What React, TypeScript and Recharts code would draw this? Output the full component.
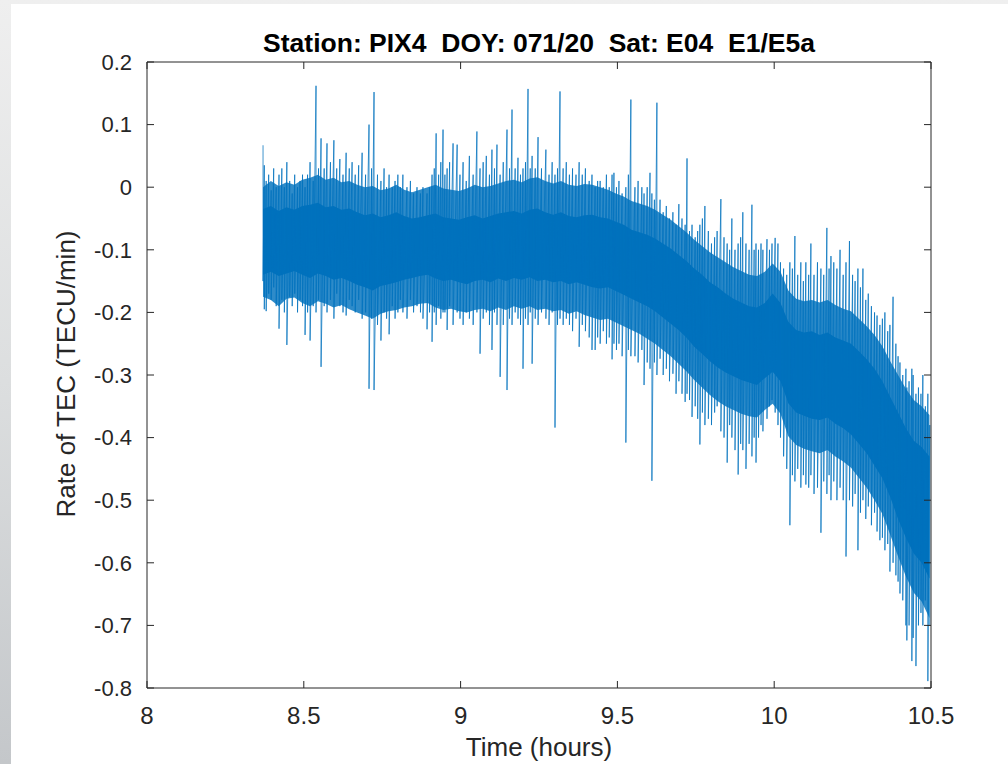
import React from "react";
import { ComposedChart, Line, Area, XAxis, YAxis } from "recharts";

// spike extremes of the rate-of-TEC trace (hours, TECU/min)
const spikeHours = [
  8.370, 8.374, 8.380, 8.388, 8.396, 8.404, 8.412, 8.421, 8.430, 8.438,
  8.446, 8.455, 8.463, 8.471, 8.480, 8.488, 8.496, 8.504, 8.512, 8.520,
  8.530, 8.539, 8.547, 8.555, 8.565, 8.574, 8.585, 8.596, 8.605, 8.615,
  8.625, 8.635, 8.645, 8.654, 8.664, 8.675, 8.686, 8.697, 8.708, 8.716,
  8.724, 8.735, 8.746, 8.756, 8.764, 8.772, 8.782, 8.791, 8.800, 8.808,
  8.816, 8.829, 8.840, 8.850, 8.861, 8.872, 8.880, 8.893, 8.901, 8.909,
  8.916, 8.922, 8.930, 8.937, 8.944, 8.950, 8.957, 8.965, 8.976, 8.989,
  8.998, 9.008, 9.018, 9.028, 9.040, 9.052, 9.062, 9.072, 9.082, 9.092,
  9.100, 9.108, 9.116, 9.126, 9.136, 9.148, 9.156, 9.164, 9.174, 9.183,
  9.191, 9.199, 9.207, 9.215, 9.222, 9.228, 9.238, 9.247, 9.258, 9.272,
  9.282, 9.292, 9.301, 9.309, 9.317, 9.327, 9.337, 9.347, 9.357, 9.368,
  9.378, 9.388, 9.398, 9.410, 9.419, 9.429, 9.437, 9.445, 9.455, 9.465,
  9.474, 9.483, 9.489, 9.497, 9.505, 9.515, 9.527, 9.535, 9.543, 9.556,
  9.566, 9.578, 9.585, 9.595, 9.604, 9.610, 9.618, 9.626, 9.636, 9.646,
  9.656, 9.666, 9.677, 9.687, 9.696, 9.706, 9.716, 9.722, 9.730, 9.738,
  9.748, 9.756, 9.763, 9.771, 9.779, 9.790, 9.800, 9.810, 9.818, 9.830,
  9.840, 9.850, 9.858, 9.865, 9.875, 9.885, 9.893, 9.900, 9.910, 9.920,
  9.929, 9.936, 9.942, 9.950, 9.958, 9.964, 9.977, 9.985, 9.993, 10.003,
  10.012, 10.020, 10.030, 10.040, 10.050, 10.058, 10.066, 10.075, 10.085, 10.093,
  10.101, 10.110, 10.117, 10.127, 10.138, 10.149, 10.158, 10.168, 10.175, 10.181,
  10.190, 10.200, 10.210, 10.220, 10.229, 10.240, 10.250, 10.258, 10.267, 10.275,
  10.283, 10.292, 10.300, 10.310, 10.320, 10.328, 10.337, 10.345, 10.353, 10.362,
  10.369, 10.379, 10.388, 10.395, 10.401, 10.410, 10.420, 10.423, 10.430, 10.439,
  10.443, 10.452, 10.460, 10.468, 10.474, 10.482, 10.490, 10.496,
];

const spikeLow = [
  -0.150, -0.195, -0.198, -0.170, -0.180, -0.160, -0.190, -0.226, -0.180, -0.200,
  -0.252, -0.175, -0.190, -0.170, -0.200, -0.180, -0.190, -0.236, -0.200, -0.245,
  -0.190, -0.200, -0.180, -0.287, -0.190, -0.200, -0.180, -0.210, -0.170, -0.190,
  -0.200, -0.205, -0.180, -0.190, -0.200, -0.180, -0.210, -0.200, -0.322, -0.210,
  -0.324, -0.220, -0.245, -0.200, -0.210, -0.235, -0.190, -0.210, -0.200, -0.180,
  -0.200, -0.210, -0.180, -0.200, -0.190, -0.200, -0.210, -0.227, -0.200, -0.247,
  -0.200, -0.220, -0.190, -0.210, -0.200, -0.200, -0.228, -0.190, -0.220, -0.200,
  -0.210, -0.220, -0.200, -0.210, -0.220, -0.200, -0.266, -0.210, -0.200, -0.220,
  -0.260, -0.200, -0.220, -0.303, -0.220, -0.324, -0.210, -0.220, -0.200, -0.210,
  -0.220, -0.290, -0.210, -0.220, -0.200, -0.282, -0.210, -0.220, -0.200, -0.210,
  -0.220, -0.200, -0.384, -0.220, -0.210, -0.220, -0.210, -0.220, -0.230, -0.210,
  -0.255, -0.220, -0.230, -0.240, -0.260, -0.260, -0.240, -0.250, -0.230, -0.250,
  -0.240, -0.275, -0.250, -0.260, -0.250, -0.270, -0.408, -0.260, -0.270, -0.270,
  -0.280, -0.260, -0.316, -0.280, -0.290, -0.469, -0.280, -0.300, -0.274, -0.300,
  -0.290, -0.310, -0.298, -0.330, -0.310, -0.330, -0.343, -0.330, -0.340, -0.367,
  -0.350, -0.370, -0.411, -0.360, -0.380, -0.370, -0.380, -0.360, -0.350, -0.390,
  -0.400, -0.440, -0.380, -0.400, -0.420, -0.459, -0.410, -0.420, -0.450, -0.410,
  -0.430, -0.400, -0.440, -0.400, -0.380, -0.390, -0.370, -0.350, -0.340, -0.360,
  -0.380, -0.400, -0.430, -0.450, -0.540, -0.460, -0.470, -0.450, -0.480, -0.460,
  -0.475, -0.480, -0.460, -0.490, -0.480, -0.552, -0.470, -0.490, -0.460, -0.500,
  -0.470, -0.500, -0.480, -0.500, -0.590, -0.500, -0.510, -0.490, -0.580, -0.520,
  -0.500, -0.530, -0.510, -0.540, -0.520, -0.550, -0.564, -0.560, -0.580, -0.570,
  -0.614, -0.600, -0.620, -0.630, -0.649, -0.660, -0.700, -0.724, -0.700, -0.757,
  -0.720, -0.765, -0.700, -0.680, -0.700, -0.660, -0.789, -0.700,
];

const spikeHigh = [
  0.067, 0.035, 0.010, 0.020, -0.005, 0.030, 0.000, 0.020, 0.030, 0.000,
  0.040, 0.010, -0.010, 0.020, 0.000, 0.010, 0.020, 0.000, 0.020, 0.040,
  0.010, 0.162, 0.030, 0.078, 0.030, 0.070, 0.040, 0.075, 0.030, 0.045,
  0.020, 0.055, 0.030, 0.040, 0.020, 0.035, 0.055, 0.020, 0.100, 0.030,
  0.152, 0.020, 0.010, 0.030, 0.000, 0.020, 0.000, 0.010, 0.020, 0.000,
  0.020, 0.000, 0.010, -0.010, 0.000, -0.010, 0.000, -0.010, 0.000, 0.020,
  0.030, 0.086, 0.020, 0.040, 0.092, 0.020, 0.030, 0.040, 0.070, 0.068,
  0.020, 0.040, 0.010, 0.050, 0.020, 0.089, 0.030, 0.040, 0.050, 0.020,
  0.060, 0.030, 0.068, 0.020, 0.040, 0.092, 0.030, 0.124, 0.030, 0.047,
  0.020, 0.030, 0.040, 0.157, 0.030, 0.050, 0.030, 0.080, 0.030, 0.060,
  0.020, 0.040, 0.020, 0.030, 0.153, 0.030, 0.040, 0.020, 0.030, 0.020,
  0.040, 0.020, 0.030, 0.010, 0.020, 0.000, 0.010, 0.010, 0.000, 0.020,
  0.000, 0.020, 0.023, 0.000, 0.010, -0.010, 0.000, 0.020, 0.140, 0.000,
  0.010, 0.000, -0.010, 0.000, 0.023, -0.010, -0.020, 0.135, -0.020, -0.040,
  -0.030, -0.050, -0.040, -0.060, -0.027, -0.050, -0.060, 0.046, -0.070, -0.060,
  -0.080, -0.070, -0.060, -0.050, -0.030, -0.070, -0.090, -0.080, -0.070, -0.019,
  -0.080, -0.090, -0.100, -0.050, -0.100, -0.090, -0.080, -0.040, -0.090, -0.100,
  -0.028, -0.100, -0.090, -0.100, -0.090, -0.100, -0.083, -0.100, -0.090, -0.081,
  -0.090, -0.120, -0.130, -0.140, -0.120, -0.130, -0.078, -0.140, -0.120, -0.150,
  -0.120, -0.140, -0.090, -0.140, -0.120, -0.130, -0.140, -0.065, -0.130, -0.110,
  -0.120, -0.130, -0.100, -0.140, -0.120, -0.086, -0.140, -0.150, -0.130, -0.160,
  -0.130, -0.180, -0.170, -0.190, -0.200, -0.205, -0.220, -0.210, -0.200, -0.230,
  -0.220, -0.175, -0.250, -0.270, -0.280, -0.300, -0.290, -0.320, -0.310, -0.290,
  -0.300, -0.330, -0.320, -0.330, -0.300, -0.350, -0.330, -0.380,
];

// dense core of the trace and its fuzzy fringe
const bandHours = [
  8.370, 8.395, 8.420, 8.445, 8.470, 8.495, 8.520, 8.545, 8.570, 8.595,
  8.620, 8.645, 8.670, 8.695, 8.720, 8.745, 8.770, 8.795, 8.820, 8.845,
  8.870, 8.895, 8.920, 8.945, 8.970, 8.995, 9.020, 9.045, 9.070, 9.095,
  9.120, 9.145, 9.170, 9.195, 9.220, 9.245, 9.270, 9.295, 9.320, 9.345,
  9.370, 9.395, 9.420, 9.445, 9.470, 9.495, 9.520, 9.545, 9.570, 9.595,
  9.620, 9.645, 9.670, 9.695, 9.720, 9.745, 9.770, 9.795, 9.820, 9.845,
  9.870, 9.895, 9.920, 9.945, 9.970, 9.995, 10.020, 10.045, 10.070, 10.095,
  10.120, 10.145, 10.170, 10.195, 10.220, 10.245, 10.270, 10.295, 10.320, 10.345,
  10.370, 10.395, 10.420, 10.445, 10.470, 10.495,
];
const coreTop = [
  -0.035, -0.030, -0.038, -0.032, -0.036, -0.030, -0.028, -0.025, -0.032, -0.030,
  -0.036, -0.034, -0.040, -0.045, -0.042, -0.048, -0.045, -0.040, -0.046, -0.050,
  -0.048, -0.045, -0.042, -0.048, -0.050, -0.052, -0.048, -0.045, -0.050, -0.046,
  -0.042, -0.040, -0.038, -0.042, -0.036, -0.034, -0.040, -0.044, -0.040, -0.046,
  -0.048, -0.045, -0.044, -0.048, -0.050, -0.055, -0.060, -0.068, -0.072, -0.076,
  -0.082, -0.090, -0.098, -0.108, -0.118, -0.130, -0.140, -0.152, -0.160, -0.170,
  -0.178, -0.184, -0.190, -0.192, -0.185, -0.170, -0.185, -0.215, -0.228, -0.232,
  -0.230, -0.236, -0.232, -0.240, -0.245, -0.250, -0.262, -0.275, -0.290, -0.310,
  -0.335, -0.360, -0.385, -0.405, -0.415, -0.430,
];
const coreBottom = [
  -0.140, -0.135, -0.142, -0.138, -0.134, -0.140, -0.145, -0.138, -0.142, -0.148,
  -0.145, -0.150, -0.156, -0.160, -0.165, -0.158, -0.155, -0.152, -0.148, -0.145,
  -0.142, -0.140, -0.146, -0.150, -0.148, -0.152, -0.155, -0.150, -0.148, -0.152,
  -0.146, -0.150, -0.145, -0.148, -0.144, -0.150, -0.148, -0.152, -0.150, -0.155,
  -0.152, -0.156, -0.160, -0.162, -0.160, -0.166, -0.172, -0.178, -0.184, -0.190,
  -0.198, -0.208, -0.218, -0.228, -0.240, -0.255, -0.266, -0.278, -0.288, -0.296,
  -0.302, -0.308, -0.312, -0.316, -0.305, -0.295, -0.310, -0.345, -0.360, -0.365,
  -0.370, -0.372, -0.368, -0.378, -0.385, -0.395, -0.410, -0.425, -0.445, -0.465,
  -0.495, -0.530, -0.560, -0.585, -0.600, -0.625,
];
const fringeTop = [
  0.000, 0.010, 0.002, 0.008, 0.004, 0.012, 0.015, 0.020, 0.012, 0.015,
  0.008, 0.010, 0.004, 0.000, 0.002, -0.005, -0.002, 0.004, -0.004, -0.008,
  -0.004, 0.000, 0.004, -0.002, -0.004, -0.006, -0.002, 0.004, 0.000, 0.002,
  0.006, 0.010, 0.012, 0.008, 0.014, 0.016, 0.010, 0.006, 0.010, 0.004,
  0.002, 0.005, 0.004, 0.000, -0.004, -0.010, -0.015, -0.022, -0.026, -0.030,
  -0.036, -0.044, -0.052, -0.062, -0.072, -0.084, -0.094, -0.104, -0.112, -0.120,
  -0.128, -0.134, -0.140, -0.142, -0.135, -0.122, -0.135, -0.165, -0.178, -0.182,
  -0.180, -0.184, -0.180, -0.188, -0.194, -0.198, -0.210, -0.222, -0.236, -0.254,
  -0.278, -0.300, -0.322, -0.340, -0.350, -0.364,
];
const fringeBottom = [
  -0.175, -0.180, -0.190, -0.178, -0.176, -0.185, -0.190, -0.182, -0.186, -0.192,
  -0.188, -0.195, -0.200, -0.205, -0.210, -0.202, -0.198, -0.196, -0.192, -0.190,
  -0.186, -0.185, -0.192, -0.196, -0.194, -0.198, -0.200, -0.196, -0.194, -0.198,
  -0.192, -0.196, -0.190, -0.194, -0.190, -0.196, -0.194, -0.198, -0.196, -0.202,
  -0.198, -0.204, -0.208, -0.212, -0.210, -0.216, -0.222, -0.228, -0.234, -0.242,
  -0.250, -0.260, -0.270, -0.282, -0.294, -0.308, -0.320, -0.332, -0.342, -0.350,
  -0.356, -0.362, -0.366, -0.368, -0.356, -0.346, -0.362, -0.398, -0.412, -0.418,
  -0.422, -0.425, -0.420, -0.430, -0.438, -0.448, -0.464, -0.480, -0.500, -0.522,
  -0.555, -0.590, -0.622, -0.648, -0.662, -0.688,
];

const xTicks = [8, 8.5, 9, 9.5, 10, 10.5];
const yTicks = [0.2, 0.1, 0, -0.1, -0.2, -0.3, -0.4, -0.5, -0.6, -0.7, -0.8];

const signal = spikeHours.flatMap((hour, i) => [
  { hour, tec: spikeHigh[i] },
  { hour, tec: spikeLow[i] },
]);
const bands = bandHours.map((hour, i) => ({
  hour,
  core: [coreBottom[i], coreTop[i]],
  fringe: [fringeBottom[i], fringeTop[i]],
}));

const AXIS = "#262626";
const BLUE = "#0072BD";
const FONT = "'Liberation Sans', Arial, Helvetica, sans-serif";

export default function App() {
  return (
    <div
      style={{
        position: "absolute",
        left: 0,
        top: 0,
        width: 1008,
        height: 764,
        background: "linear-gradient(180deg, #efefef 0%, #dcdedf 50%, #c4c7ca 100%)",
        fontFamily: FONT,
        overflow: "hidden",
      }}
    >
      <div style={{ position: "absolute", left: 11, top: 4, width: 997, height: 760, background: "#fff" }}>
        <ComposedChart width={997} height={760} data={signal} margin={{ top: 57, right: 76, bottom: 36, left: 76 }}>
          <XAxis
            dataKey="hour"
            type="number"
            domain={[8, 10.5]}
            ticks={xTicks}
            allowDataOverflow
            tickSize={-7}
            tickMargin={26}
            height={40}
            stroke={AXIS}
            tick={{ fontSize: 24, fill: AXIS }}
          />
          <XAxis
            xAxisId="top"
            dataKey="hour"
            orientation="top"
            type="number"
            domain={[8, 10.5]}
            ticks={xTicks}
            allowDataOverflow
            tickSize={-7}
            height={1}
            stroke={AXIS}
            tickFormatter={() => ""}
          />
          <YAxis
            type="number"
            domain={[-0.8, 0.2]}
            ticks={yTicks}
            allowDataOverflow
            tickSize={-7}
            tickMargin={22}
            width={60}
            stroke={AXIS}
            tick={{ fontSize: 22, fill: AXIS }}
          />
          <YAxis
            yAxisId="right"
            orientation="right"
            type="number"
            domain={[-0.8, 0.2]}
            ticks={yTicks}
            allowDataOverflow
            tickSize={-7}
            width={1}
            stroke={AXIS}
            tickFormatter={() => ""}
          />
          <Area
            data={bands}
            xAxisId="top"
            yAxisId="right"
            dataKey="fringe"
            type="linear"
            fill={BLUE}
            fillOpacity={0.82}
            stroke="none"
            isAnimationActive={false}
          />
          <Area
            data={bands}
            dataKey="core"
            type="linear"
            fill={BLUE}
            fillOpacity={1}
            stroke="none"
            isAnimationActive={false}
          />
          <Line
            dataKey="tec"
            type="linear"
            stroke={BLUE}
            strokeOpacity={0.75}
            strokeWidth={1}
            dot={false}
            isAnimationActive={false}
          />
        </ComposedChart>
      </div>
      <div
        style={{
          position: "absolute",
          left: 147,
          width: 784,
          top: 30,
          lineHeight: "26px",
          fontSize: 26.5,
          fontWeight: "bold",
          textAlign: "center",
          color: "#000",
          whiteSpace: "pre",
        }}
      >
        {"Station: PIX4  DOY: 071/20  Sat: E04  E1/E5a"}
      </div>
      <div
        style={{
          position: "absolute",
          left: 147,
          width: 784,
          top: 734,
          lineHeight: "26px",
          fontSize: 26,
          textAlign: "center",
          color: AXIS,
        }}
      >
        Time (hours)
      </div>
      <div
        style={{
          position: "absolute",
          left: 66,
          top: 374,
          lineHeight: "26px",
          fontSize: 26,
          color: AXIS,
          whiteSpace: "nowrap",
          transform: "translate(-50%, -50%) rotate(-90deg)",
        }}
      >
        Rate of TEC (TECU/min)
      </div>
    </div>
  );
}
